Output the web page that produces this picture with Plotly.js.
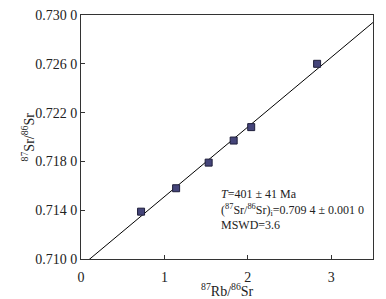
<!DOCTYPE html>
<html><head><meta charset="utf-8">
<script src="https://cdn.plot.ly/plotly-3.0.1.min.js"></script>
<style>html,body{margin:0;padding:0;background:#fff}#c{width:386px;height:299px}</style>
</head><body><div id="c"></div>
<script>
var rbSr = [0.72, 1.14, 1.53, 1.83, 2.04, 2.83];
var srSr = [0.71388, 0.71580, 0.71790, 0.71971, 0.72081, 0.72600];
var lineX = [0, 3.5];
var lineY = [0.7094, 0.72939];
var yTickVals = [0.710, 0.714, 0.718, 0.722, 0.726, 0.730];
var yTickText = ["0.710 0", "0.714 0", "0.718 0", "0.722 0", "0.726 0", "0.730 0"];
var xTickVals = [0, 1, 2, 3];
var xTickText = ["0", "1", "2", "3"];

var F = "Liberation Serif, Times New Roman, serif";
var traces = [
  {x: lineX, y: lineY, mode: "lines", line: {color: "#000", width: 1}, hoverinfo: "skip"},
  {x: rbSr, y: srSr, mode: "markers", marker: {symbol: "square", size: 7, color: "#45457a", line: {color: "#1e1e3a", width: 1}}}
];
var layout = {
  width: 386, height: 299,
  margin: {l: 81, r: 13, t: 15, b: 40},
  showlegend: false,
  paper_bgcolor: "#fff", plot_bgcolor: "#fff",
  font: {family: F, size: 14, color: "#222"},
  xaxis: {range: [0, 3.5], tickvals: xTickVals, ticktext: xTickText, ticks: "inside", ticklen: 4,
          tickcolor: "#333", showgrid: false, zeroline: false, showline: true, linecolor: "#333",
          linewidth: 1, mirror: true, ticklabelstandoff: 5, tickfont: {family: F, size: 14, color: "#222"}},
  yaxis: {range: [0.710, 0.730], tickvals: yTickVals, ticktext: yTickText, ticks: "inside", ticklen: 4,
          tickcolor: "#333", showgrid: false, zeroline: false, showline: true, linecolor: "#333",
          linewidth: 1, mirror: true, tickfont: {family: F, size: 14, color: "#222"}},
  annotations: [
    {xref: "paper", yref: "paper", x: 0.5, y: -0.125, xanchor: "center", yanchor: "middle", showarrow: false,
     text: "<sup>87</sup>Rb/<sup>86</sup>Sr", font: {family: F, size: 14, color: "#222"}},
    {xref: "paper", yref: "paper", x: -0.18, y: 0.5, xanchor: "center", yanchor: "middle", showarrow: false, textangle: -90,
     text: "<sup>87</sup>Sr/<sup>86</sup>Sr", font: {family: F, size: 14, color: "#222"}},
    {xref: "paper", yref: "paper", x: 0.473, y: 0.305, xanchor: "left", yanchor: "top", showarrow: false, align: "left",
     text: "<i>T</i>=401 ± 41 Ma<br>(<sup>87</sup>Sr/<sup>86</sup>Sr)<sub>i</sub>=0.709 4 ± 0.001 0<br>MSWD=3.6",
     font: {family: F, size: 12, color: "#222"}}
  ]
};
Plotly.newPlot("c", traces, layout, {staticPlot: true});
</script></body></html>
